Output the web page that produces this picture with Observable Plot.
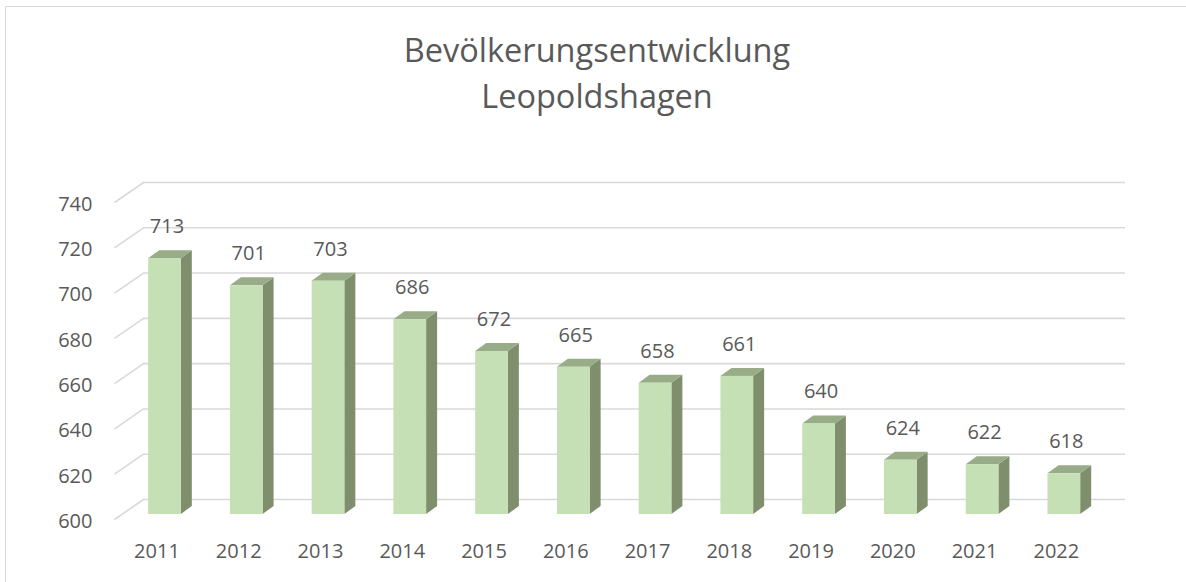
<!DOCTYPE html>
<html>
<head>
<meta charset="utf-8">
<script src="https://cdn.jsdelivr.net/npm/d3@7"></script>
<script src="https://cdn.jsdelivr.net/npm/@observablehq/plot@0.6"></script>
<style>
  html, body { margin: 0; padding: 0; background: #ffffff; }
  body { width: 1186px; height: 582px; position: relative; overflow: hidden; font-family: "Open Sans", sans-serif; }
  #frame { position: absolute; left: 5px; top: 6px; width: 1190px; height: 590px;
           border-left: 1.5px solid #d9d9d9; border-top: 1.5px solid #d9d9d9; box-sizing: border-box; }
  #title { position: absolute; left: 0; top: 27px; width: 1186px; padding-left: 8px; box-sizing: border-box;
           text-align: center; font-size: 32.5px; line-height: 46px; color: #595959; }
  #chart { position: absolute; left: 0; top: 140px; }
</style>
</head>
<body>
<div id="frame"></div>
<div id="title">Bevölkerungsentwicklung<br>Leopoldshagen</div>
<div id="chart"></div>
<script>
// ---- data ----
const years = [2011, 2012, 2013, 2014, 2015, 2016, 2017, 2018, 2019, 2020, 2021, 2022];
const population = [713, 701, 703, 686, 672, 665, 658, 661, 640, 624, 622, 618];
const yTicks = [600, 620, 640, 660, 680, 700, 720, 740];

// ---- layout ----
const W = 1186, H = 442;
const mL = 123.6, mR = 81.3, mT = 64, mB = 61;
const yMin = 600, yMax = 740;
const xDomain = [2010.5, 2022.5];
const pxX = (W - mL - mR) / (xDomain[1] - xDomain[0]);
const pxY = (H - mT - mB) / (yMax - yMin);
const xAt = px => xDomain[0] + (px - mL) / pxX;   // pixel -> x units
const halfW = 0.2;                 // half bar width (x units)
const depthX = 11 / pxX;           // 3D depth to the right
const depthY = 8 / pxY;            // 3D depth upward
const barDy = -7;

const table = years.map((year, i) => ({year, value: population[i]}));

const sideFaces = table.flatMap(d => [
  {year: d.year, x: d.year + halfW, y1: yMin, y2: d.value},
  {year: d.year, x: d.year + halfW + depthX, y1: yMin + depthY, y2: d.value + depthY}
]);
const topFaces = table.flatMap(d => [
  {year: d.year, x: d.year - halfW, y1: d.value, y2: d.value},
  {year: d.year, x: d.year - halfW + depthX, y1: d.value, y2: d.value + depthY},
  {year: d.year, x: d.year + halfW, y1: d.value, y2: d.value + depthY},
  {year: d.year, x: d.year + halfW + depthX, y1: d.value + depthY, y2: d.value + depthY}
]);

const textColor = "#595959";
const gridColor = "#d9d9d9";

const chart = Plot.plot({
  width: W,
  height: H,
  marginLeft: mL, marginRight: mR, marginTop: mT, marginBottom: mB,
  style: {fontFamily: "Open Sans", fontSize: "20px", color: textColor, background: "transparent", overflow: "visible"},
  x: {type: "linear", domain: xDomain, axis: null},
  y: {domain: [yMin, yMax], axis: null},
  marks: [
    // back-wall gridlines
    Plot.ruleY(yTicks, {y: d => d, x1: xAt(143), x2: xAt(1125), dy: -22, stroke: gridColor, strokeWidth: 1.6}),
    // floor/side slants of gridlines
    Plot.link(yTicks, {x1: xAt(114), y1: d => d, x2: xAt(143), y2: d => d + 20 / pxY, dy: -2,
                       stroke: gridColor, strokeWidth: 1.6}),
    // bar side faces
    Plot.area(sideFaces, {x1: "x", y1: "y1", y2: "y2", z: "year", fill: "#7f8f6e", dy: barDy}),
    // bar top faces
    Plot.area(topFaces, {x1: "x", y1: "y1", y2: "y2", z: "year", fill: "#98ad87", dy: barDy}),
    // bar front faces
    Plot.rect(table, {x1: d => d.year - halfW, x2: d => d.year + halfW, y1: yMin, y2: "value",
                      fill: "#c5e0b4", dy: barDy}),
    // value labels
    Plot.text(table, {x: "year", y: "value", text: d => String(d.value), dy: barDy - 32, dx: 2,
                      lineAnchor: "middle", fill: textColor, fontSize: 20}),
    // y tick labels
    Plot.text(yTicks, {y: d => d, frameAnchor: "left", dx: -31.6, textAnchor: "end", lineAnchor: "middle",
                       text: d => String(d), fill: textColor, fontSize: 20}),
    // x tick labels
    Plot.text(years, {x: d => d, frameAnchor: "bottom", dy: 30, dx: -8, lineAnchor: "middle",
                      text: d => String(d), fill: textColor, fontSize: 20})
  ]
});
document.getElementById("chart").appendChild(chart);
</script>
</body>
</html>
